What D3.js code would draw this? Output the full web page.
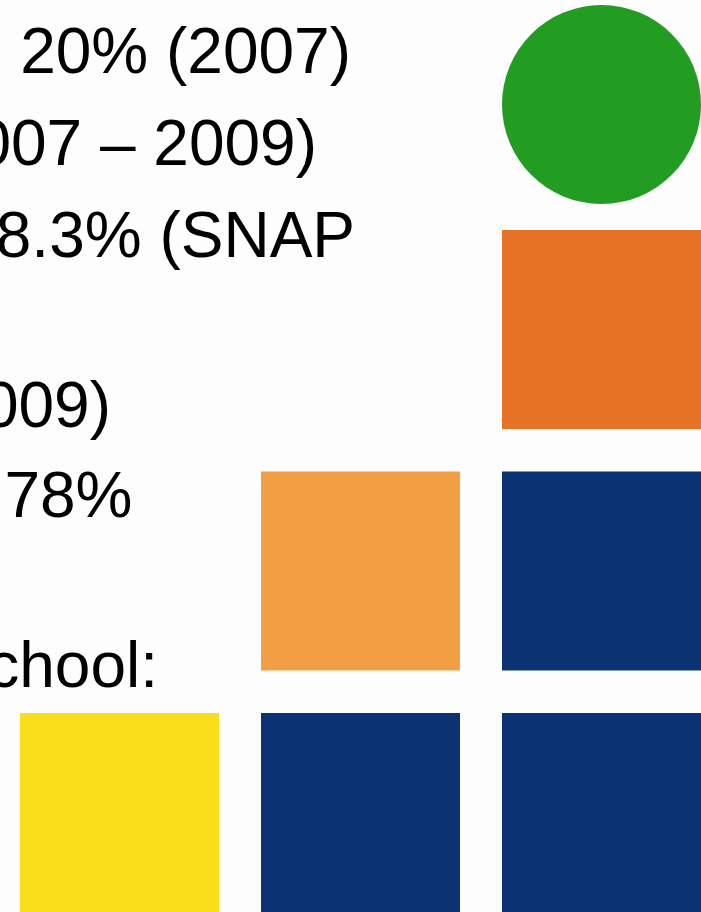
<!DOCTYPE html>
<html>
<head>
<meta charset="utf-8">
<script src="https://cdn.jsdelivr.net/npm/d3@7/dist/d3.min.js"></script>
<style>
  html, body { margin: 0; padding: 0; background: #fdfdfd; overflow: hidden; }
  svg { display: block; }
</style>
</head>
<body>
<script>
// ---- data ----
// text lines (the slide is cropped on the left; only the tail of each line is visible)
const textLines = ["rate 20% (2007)", "(2007 – 2009)", "8.3% (SNAP", "(2007 – 2009)", "78%", "School:"];
const textLineIndex = [0, 1, 2, 4, 5, 7]; // line slot of each text line (blank slots between paragraphs)

// pictogram cells: column, row, shape, category colour key
const cellCols   = [2, 2, 1, 2, 0, 1, 2];
const cellRows   = [0, 1, 2, 2, 3, 3, 3];
const cellShapes = ["circle", "square", "square", "square", "square", "square", "square"];
const cellKinds  = ["green", "darkOrange", "lightOrange", "navy", "yellow", "navy", "navy"];

// ---- layout / style ----
const W = 701, H = 912;
const palette = {
  green: "#239c22",
  darkOrange: "#e67226",
  lightOrange: "#f2a043",
  navy: "#0b3373",
  yellow: "#fade1b"
};

const svg = d3.select("body").append("svg").attr("width", W).attr("height", H);
svg.append("rect").attr("width", W).attr("height", H).attr("fill", "#fdfdfd");

const cells = cellCols.map((c, i) => ({ col: c, row: cellRows[i], shape: cellShapes[i], kind: cellKinds[i] }));

const x = d3.scaleBand().domain([0, 1, 2]).range([20, 701]).paddingInner(0.1743).paddingOuter(0);
const size = x.bandwidth();
const y = d3.scaleLinear().domain([0, 1, 3]).range([5, 230, 713]);
const color = d3.scaleOrdinal().domain(Object.keys(palette)).range(Object.values(palette));

const g = svg.append("g");
g.selectAll("rect.cell")
  .data(cells.filter(d => d.shape === "square"))
  .join("rect")
  .attr("class", "cell")
  .attr("x", d => x(d.col))
  .attr("y", d => y(d.row))
  .attr("width", size)
  .attr("height", size)
  .attr("fill", d => color(d.kind));

g.selectAll("circle.cell")
  .data(cells.filter(d => d.shape === "circle"))
  .join("circle")
  .attr("class", "cell")
  .attr("cx", d => x(d.col) + size / 2)
  .attr("cy", d => y(d.row) + size / 2)
  .attr("r", size / 2)
  .attr("fill", d => color(d.kind));

// text lines, right-aligned to where each visible line ends
const lineEnds = [351, 317, 355, 111, 132.5, 158];
const lineY = d3.scaleLinear().domain([0, 2]).range([73, 257]);
const lineYLower = d => d < 4 ? lineY(d) : lineY(2) + 170 + (d === 5 ? 90 : d === 7 ? 260 : 0);

svg.append("g").selectAll("text")
  .data(textLines.map((t, i) => ({ t, slot: textLineIndex[i], end: lineEnds[i] })))
  .join("text")
  .attr("x", d => d.end)
  .attr("y", d => lineYLower(d.slot))
  .attr("text-anchor", "end")
  .attr("font-family", "'Liberation Sans', Arial, sans-serif")
  .attr("font-size", 64)
  .attr("fill", "#000")
  .text(d => d.t);
</script>
</body>
</html>
